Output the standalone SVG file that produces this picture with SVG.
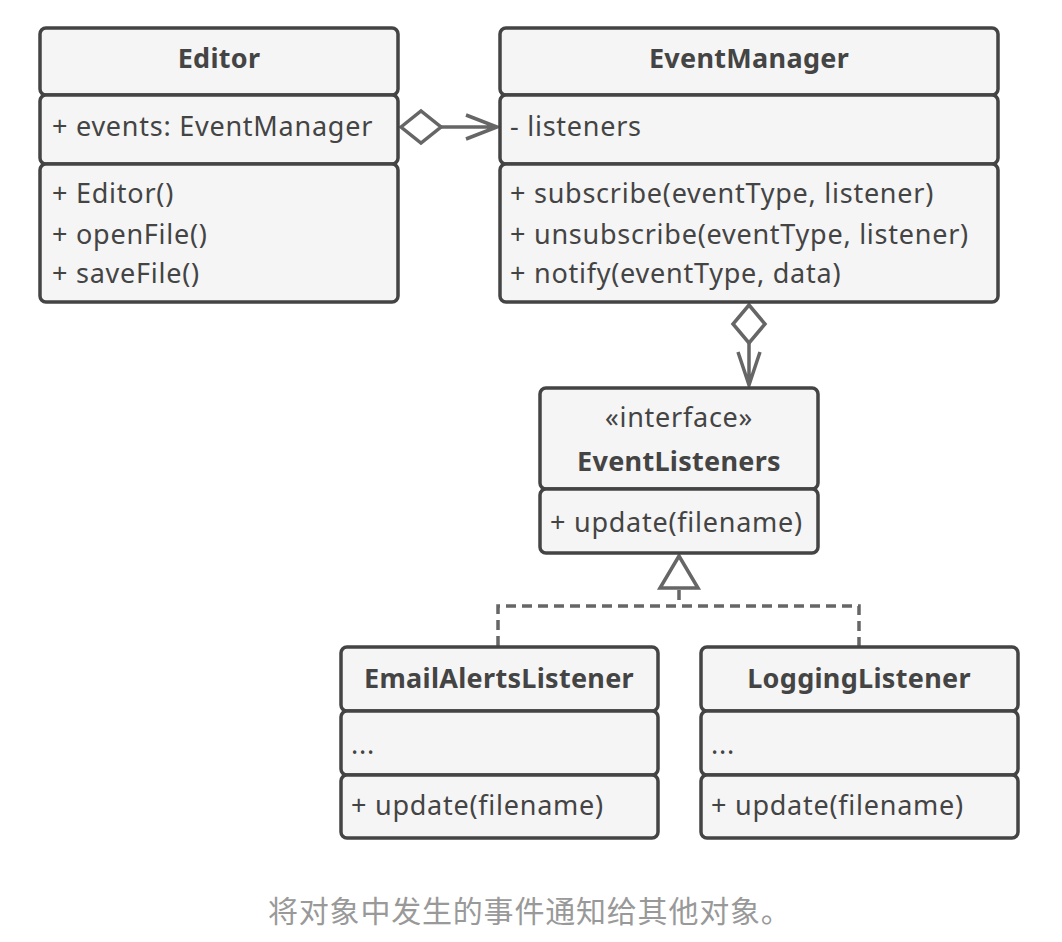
<svg xmlns="http://www.w3.org/2000/svg" width="1062" height="942" viewBox="0 0 1062 942">
<style>
.box{fill:#f5f5f5;stroke:#444;stroke-width:3.5}
.t{font-family:"Noto Sans","Open Sans",sans-serif;font-size:27px;fill:#444;letter-spacing:0.75px}
.b{font-weight:bold;text-anchor:middle;letter-spacing:0.3px}
.c{text-anchor:middle}
.ln{fill:none;stroke:#666;stroke-width:3.5}
.dash{fill:none;stroke:#666;stroke-width:3.5;stroke-dasharray:10 6}
.cap{font-family:"Noto Sans CJK SC",sans-serif;font-size:30px;fill:#999;letter-spacing:0.8px}
</style>
<rect width="1062" height="942" fill="#fff"/>
<g id="connectors">
  <path class="ln" d="M441 127 H497 M466 115 L497 127 L466 139"/>
  <path class="ln" d="M401 127 L421 111 L441 127 L421 143 Z" fill="#fff"/>
  <path class="ln" d="M749 343 V385 M738 352 L749 385 L760 352"/>
  <path class="ln" d="M749 305 L765 324 L749 343 L733 324 Z" fill="#fff"/>
  <path class="ln" d="M679 556 L698 588 L660 588 Z" fill="#fff"/>
  <path class="dash" d="M679 590 V606 M498 646 V606 H859 V646"/>
</g>
<g id="editor">
  <rect class="box" x="40" y="28" width="358" height="67" rx="6"/>
  <rect class="box" x="40" y="95" width="358" height="69" rx="6"/>
  <rect class="box" x="40" y="164" width="358" height="138" rx="6"/>
  <text class="t b" x="219" y="68">Editor</text>
  <text class="t" x="52" y="136">+ events: EventManager</text>
  <text class="t" x="52" y="203">+ Editor()</text>
  <text class="t" x="52" y="244">+ openFile()</text>
  <text class="t" x="52" y="283">+ saveFile()</text>
</g>
<g id="eventmanager">
  <rect class="box" x="500" y="28" width="498" height="67" rx="6"/>
  <rect class="box" x="500" y="95" width="498" height="69" rx="6"/>
  <rect class="box" x="500" y="164" width="498" height="138" rx="6"/>
  <text class="t b" x="749" y="68">EventManager</text>
  <text class="t" x="510" y="136">- listeners</text>
  <text class="t" x="510" y="203">+ subscribe(eventType, listener)</text>
  <text class="t" x="510" y="244">+ unsubscribe(eventType, listener)</text>
  <text class="t" x="510" y="283">+ notify(eventType, data)</text>
</g>
<g id="eventlisteners">
  <rect class="box" x="540" y="388" width="278" height="101" rx="6"/>
  <rect class="box" x="540" y="489" width="278" height="64" rx="6"/>
  <text class="t c" x="679" y="427">«interface»</text>
  <text class="t b" x="679" y="471">EventListeners</text>
  <text class="t" x="550" y="532">+ update(filename)</text>
</g>
<g id="emailalertslistener">
  <rect class="box" x="341" y="647" width="317" height="64" rx="6"/>
  <rect class="box" x="341" y="711" width="317" height="64" rx="6"/>
  <rect class="box" x="341" y="775" width="317" height="63" rx="6"/>
  <text class="t b" x="499" y="688">EmailAlertsListener</text>
  <text class="t" x="351" y="754">...</text>
  <text class="t" x="351" y="815">+ update(filename)</text>
</g>
<g id="logginglistener">
  <rect class="box" x="701" y="647" width="317" height="64" rx="6"/>
  <rect class="box" x="701" y="711" width="317" height="64" rx="6"/>
  <rect class="box" x="701" y="775" width="317" height="63" rx="6"/>
  <text class="t b" x="859" y="688">LoggingListener</text>
  <text class="t" x="711" y="754">...</text>
  <text class="t" x="711" y="815">+ update(filename)</text>
</g>
<text class="cap" x="268" y="922">将对象中发生的事件通知给其他对象。</text>
</svg>
